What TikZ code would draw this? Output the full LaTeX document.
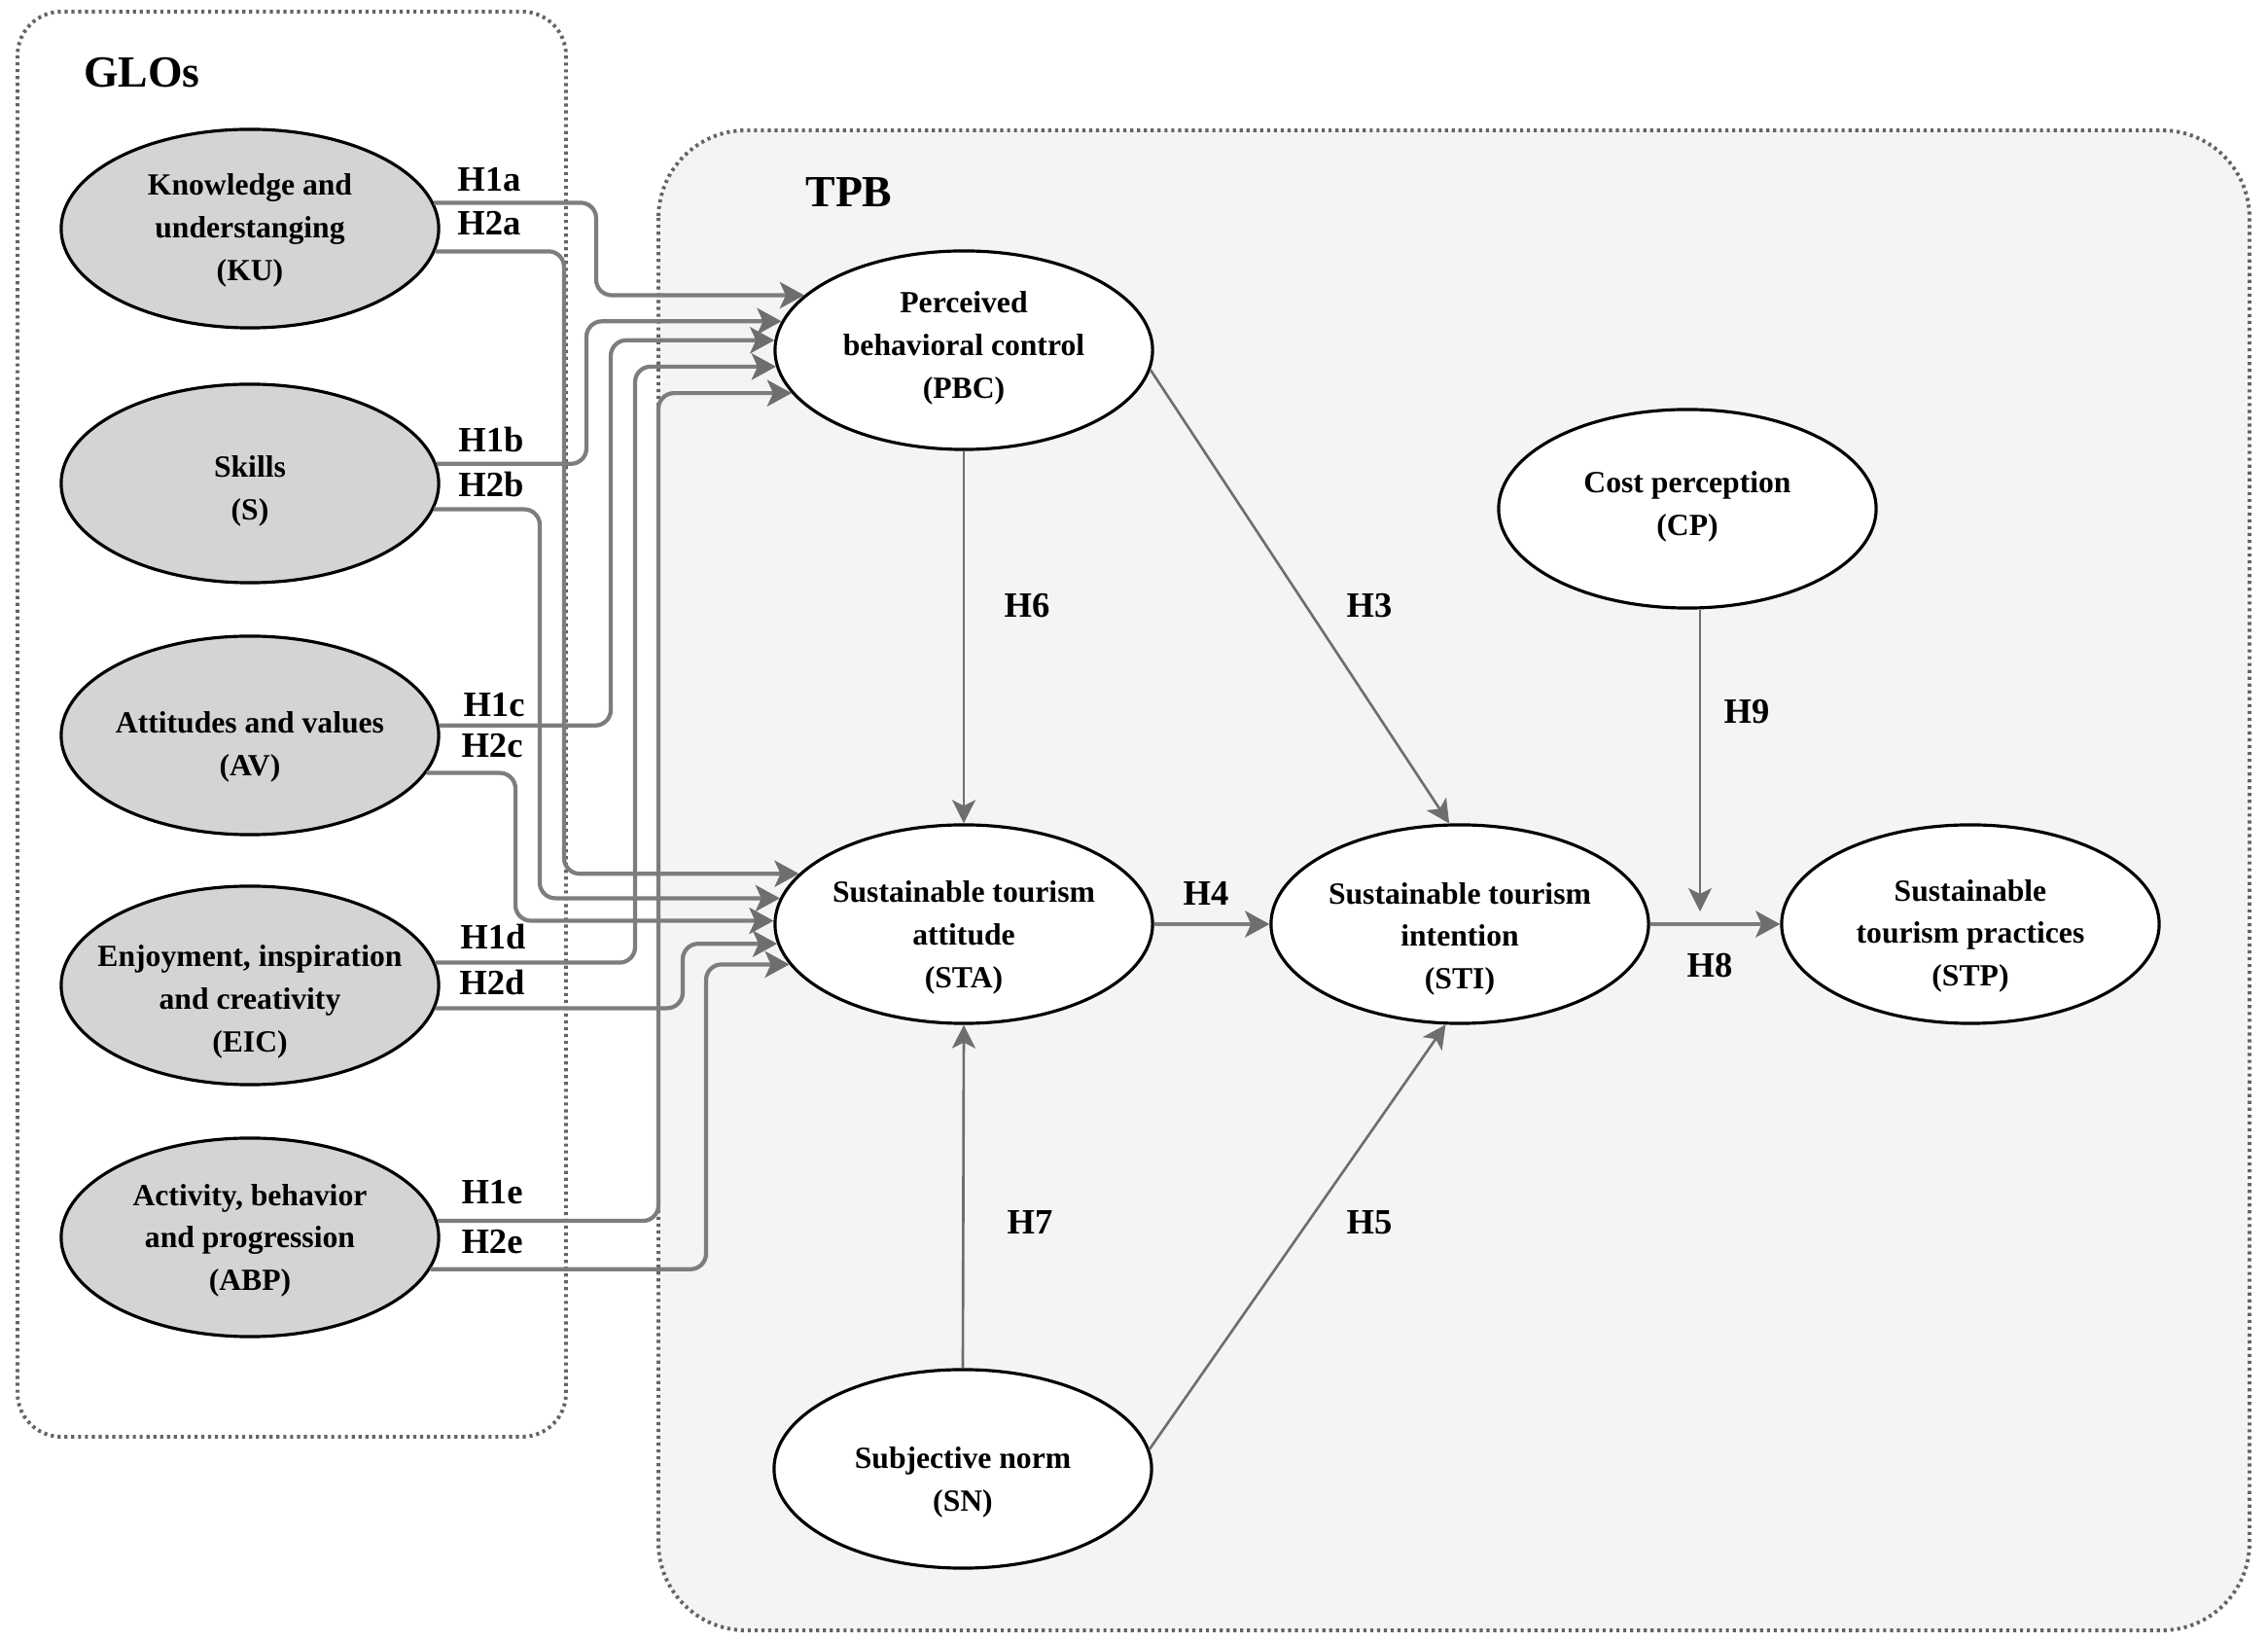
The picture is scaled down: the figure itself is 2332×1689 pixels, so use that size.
\documentclass[tikz,border=0pt]{standalone}
\usepackage{fontspec}
\setmainfont{Liberation Serif}
\usetikzlibrary{shapes.geometric,arrows.meta,calc}
\definecolor{lcol}{RGB}{125,125,125}
\definecolor{acol}{RGB}{110,110,110}
\definecolor{glofill}{RGB}{212,212,212}
\definecolor{tpbfill}{RGB}{244,244,244}
\definecolor{dotcol}{RGB}{100,100,100}
\begin{document}
\begin{tikzpicture}[x=0.01cm,y=-0.01cm,
  groupbox/.style={draw=dotcol,line width=1.1pt,dash pattern=on 0.9pt off 1.1pt},
  ellbase/.style={ellipse,draw=black,line width=0.9pt,minimum width=3.88cm,minimum height=2.04cm,inner sep=0pt},
  gl/.style={ellbase,fill=glofill},
  tp/.style={ellbase,fill=white},
  txt/.style={align=center,inner sep=0pt,font=\fontsize{9}{12.4}\selectfont\bfseries},
  hlab/.style={inner sep=0pt,font=\fontsize{10.4}{12}\selectfont\bfseries},
  grouptitle/.style={inner sep=0pt,font=\fontsize{13}{15}\selectfont\bfseries},
  conn/.style={draw=lcol,line width=1.2pt,rounded corners=1.6mm,
    -{Stealth[length=2.5mm,width=2.7mm,inset=0.6mm,color=acol]}},
  thinarrow/.style={draw=acol,line width=0.75pt,
    -{Stealth[length=2.4mm,width=2.4mm,inset=0.6mm]}},
  thickarrow/.style={draw=lcol,line width=1.3pt,
    -{Stealth[length=2.5mm,width=2.7mm,inset=0.6mm,color=acol]}}
]
\useasboundingbox (0,0) rectangle (2332,1689);

% group boxes
\draw[groupbox,fill=white,rounded corners=0.45cm] (18,12) rectangle (582,1477);
\draw[groupbox,fill=tpbfill,rounded corners=0.9cm] (677,134) rectangle (2313,1676);
\node[grouptitle] (glot) at (146,75) {GLOs};
\node[grouptitle] (tpbt) at (873,198) {TPB};

% GLO ellipses
\node[gl] (KU)  at (257,235)  {};
\node[gl] (S)   at (257,497)  {};
\node[gl] (AV)  at (257,756)  {};
\node[gl] (EIC) at (257,1013) {};
\node[gl] (ABP) at (257,1272) {};
\node[txt] (KUt)  at (257,237)  {Knowledge and\\understanging\\(KU)};
\node[txt] (St)   at (257,505)  {Skills\\(S)};
\node[txt] (AVt)  at (257,768)  {Attitudes and values\\(AV)};
\node[txt] (EICt) at (257,1030) {Enjoyment, inspiration\\and creativity\\(EIC)};
\node[txt] (ABPt) at (257,1275) {Activity, behavior\\and progression\\(ABP)};

% TPB ellipses
\node[tp] (PBC) at (991,360)  {};
\node[tp] (STA) at (991,950)  {};
\node[tp] (SN)  at (990,1510) {};
\node[tp] (STI) at (1501,950) {};
\node[tp] (STP) at (2026,950) {};
\node[tp] (CP)  at (1735,523) {};
\node[txt] (PBCt) at (991,358)  {Perceived\\behavioral control\\(PBC)};
\node[txt] (STAt) at (991,964)  {Sustainable tourism\\attitude\\(STA)};
\node[txt] (SNt)  at (990,1524) {Subjective norm\\(SN)};
\node[txt] (STIt) at (1501,965) {Sustainable tourism\\intention\\(STI)};
\node[txt] (STPt) at (2026,962) {Sustainable\\tourism practices\\(STP)};
\node[txt] (CPt)  at (1735,521) {Cost perception\\(CP)};

% GLO -> PBC
\draw[conn] (KU.8.2)   -| (613,0 |- PBC.161.4) -- (PBC.161.4);
\draw[conn] (S.6.6)    -| (603,0 |- PBC.171.5) -- (PBC.171.5);
\draw[conn] (AV.3.9)   -| (628,0 |- PBC.177.9) -- (PBC.177.9);
\draw[conn] (EIC.7.9)  -| (653,0 |- PBC.185.4) -- (PBC.185.4);
\draw[conn] (ABP.5.1)  -| (677,0 |- PBC.194.9) -- (PBC.194.9);
% GLO -> STA
\draw[conn] (KU.353.4)  -| (580,0 |- STA.163.5) -- (STA.163.5);
\draw[conn] (S.352.1)   -| (555,0 |- STA.172.4) -- (STA.172.4);
\draw[conn] (AV.348.8)  -| (530,0 |- STA.179.7) -- (STA.179.7);
\draw[conn] (EIC.353.7) -| (702,0 |- STA.186.3) -- (STA.186.3);
\draw[conn] (ABP.350.5) -| (726,0 |- STA.193) -- (STA.193);

% labels of GLO paths
\node[hlab] (l1a) at (503,185)  {H1a};
\node[hlab] (l2a) at (503,230)  {H2a};
\node[hlab] (l1b) at (505,452)  {H1b};
\node[hlab] (l2b) at (505,498)  {H2b};
\node[hlab] (l1c) at (508,725)  {H1c};
\node[hlab] (l2c) at (506,767)  {H2c};
\node[hlab] (l1d) at (507,963)  {H1d};
\node[hlab] (l2d) at (506,1010) {H2d};
\node[hlab] (l1e) at (506,1226) {H1e};
\node[hlab] (l2e) at (506,1277) {H2e};

% TPB paths
\draw[thinarrow] (PBC.south) -- (STA.north);
\draw[thinarrow] (SN.north) -- (STA.south);
\draw[thinarrow] (PBC.354) -- (STI.96.2);
\draw[thinarrow] (SN.6.8) -- (STI.262.7);
\draw[thickarrow] (STA.east) -- (STI.west);
\draw[thickarrow] (STI.east) -- (STP.west);
\coordinate (cpend) at (1748,937);
\draw[thinarrow] (CP.south -| cpend) -- (cpend);

\node[hlab] (l6) at (1056,623)  {H6};
\node[hlab] (l3) at (1408,623)  {H3};
\node[hlab] (l9) at (1796,732)  {H9};
\node[hlab] (l4) at (1240,918)  {H4};
\node[hlab] (l8) at (1758,993)  {H8};
\node[hlab] (l7) at (1059,1257) {H7};
\node[hlab] (l5) at (1408,1257) {H5};
\end{tikzpicture}
\end{document}
